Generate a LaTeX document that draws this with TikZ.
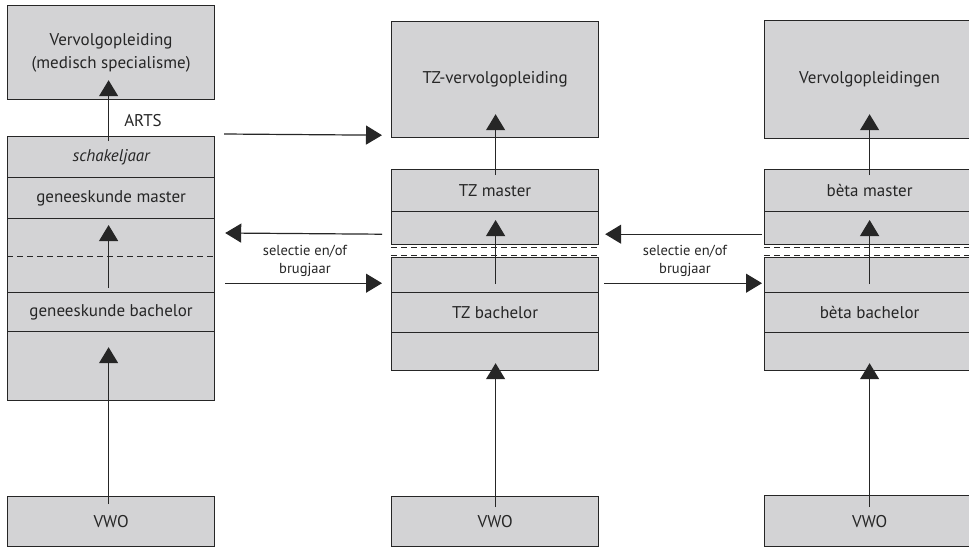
\documentclass[tikz,border=0pt]{standalone}
\usepackage{fontspec}
\setmainfont{PT Sans}
\usetikzlibrary{arrows.meta,calc}
\definecolor{boxfill}{HTML}{D3D3D5}
\definecolor{ln}{HTML}{262626}
\begin{document}
\begin{tikzpicture}[x=1pt,y=-1pt,
  box/.style={draw=ln,fill=boxfill,line width=1.2pt,inner sep=0pt,anchor=north west,align=center,text=ln,font=\fontsize{17}{22.5}\selectfont},
  arr/.style={draw=ln,line width=1.2pt,-{Triangle[width=19pt,length=16pt]}},
  dsh/.style={draw=ln,line width=1pt,dash pattern=on 6pt off 4pt},
  lbl/.style={text=ln,align=center,font=\fontsize{14.5}{17.5}\selectfont},
  ]
\useasboundingbox (0,0) rectangle (969,547);
% left column
\node[box,minimum width=207pt,minimum height=94pt] (lt) at (7,5) {Vervolgopleiding\\(medisch specialisme)};
\node[box,minimum width=207pt,minimum height=41pt] (ls1) at (7,136) {\itshape schakeljaar};
\node[box,minimum width=207pt,minimum height=41pt] (ls2) at (7,177) {geneeskunde master};
\node[box,minimum width=207pt,minimum height=74pt] (ls3) at (7,218) {};
\node[box,minimum width=207pt,minimum height=39pt] (ls4) at (7,292) {geneeskunde bachelor};
\node[box,minimum width=207pt,minimum height=69pt] (ls5) at (7,331) {};
\node[box,minimum width=207pt,minimum height=50pt] (lv) at (7,496) {VWO};
\draw[dsh] ($(ls3.west)+(0,1)$) -- ($(ls3.east)+(0,1)$);
% middle column
\node[box,minimum width=207pt,minimum height=116pt] (mt) at (391,21) {TZ-vervolgopleiding};
\node[box,minimum width=207pt,minimum height=42pt] (mm1) at (391,169) {TZ master};
\node[box,minimum width=207pt,minimum height=33pt] (mm2) at (391,211) {};
\node[box,minimum width=207pt,minimum height=35pt] (mb1) at (391,257) {};
\node[box,minimum width=207pt,minimum height=40pt] (mb2) at (391,292) {TZ bachelor};
\node[box,minimum width=207pt,minimum height=38pt] (mb3) at (391,332) {};
\node[box,minimum width=207pt,minimum height=50pt] (mv) at (391,496) {VWO};
\draw[dsh] ($(mm2.south west)+(0,2.7)$) -- ($(mm2.south east)+(0,2.7)$);
\draw[dsh] ($(mb1.north west)+(0,-2)$) -- ($(mb1.north east)+(0,-2)$);
% right column
\node[box,minimum width=210pt,minimum height=118pt] (rt) at (764,20) {Vervolgopleidingen};
\node[box,minimum width=210pt,minimum height=42pt] (rm1) at (764,169) {bèta master};
\node[box,minimum width=210pt,minimum height=33pt] (rm2) at (764,211) {};
\node[box,minimum width=210pt,minimum height=35pt] (rb1) at (764,257) {};
\node[box,minimum width=210pt,minimum height=40pt] (rb2) at (764,292) {bèta bachelor};
\node[box,minimum width=210pt,minimum height=38pt] (rb3) at (764,332) {};
\node[box,minimum width=210pt,minimum height=51pt] (rv) at (764,495) {VWO};
\draw[dsh] ($(rm2.south west)+(0,2.7)$) -- ($(rm2.south east)+(0,2.7)$);
\draw[dsh] ($(rb1.north west)+(0,-2)$) -- ($(rb1.north east)+(0,-2)$);
% vertical arrows
\draw[arr] ($(ls1.north)+(-2.5,5)$) -- ($(lt.south)+(-2.5,-20)$);
\node[lbl,font=\fontsize{17}{20}\selectfont] (arts) at (143,121) {ARTS};
\draw[arr] ($(ls4.north)+(-2.5,-4)$) -- ($(ls3.north)+(-2.5,7)$);
\draw[arr] ($(lv.north)+(-2.5,8)$) -- ($(ls5.south)+(-2.5,-54)$);
\draw[arr] ($(mm1.north)+(0.5,6)$) -- ($(mt.south)+(0.5,-24)$);
\draw[arr] ($(mb1.south)+(0.5,-9)$) -- ($(mm2.north)+(0.5,9)$);
\draw[arr] ($(mv.north)+(0.5,11)$) -- ($(mb3.south)+(0.5,-8)$);
\draw[arr] ($(rm1.north)+(0,6)$) -- ($(rt.south)+(0,-25)$);
\draw[arr] ($(rb1.south)+(0,-9)$) -- ($(rm2.north)+(0,9)$);
\draw[arr] ($(rv.north)+(0,12)$) -- ($(rb3.south)+(0,-8)$);
% horizontal arrows
\draw[arr] ($(ls1.north east)+(9,-2)$) -- ($(mt.south west)+(-9,-3)$);
\draw[arr] ($(mm2.south west)+(-9,-11)$) -- ($(ls3.north east)+(10,15)$);
\draw[arr] ($(ls3.south east)+(10,-10)$) -- ($(mb1.south west)+(-9,-10)$);
\node[lbl] (sel1) at (305,261) {selectie en/of\\brugjaar};
\draw[arr] ($(rm2.south west)+(-2,-11)$) -- ($(mm2.south east)+(6,-11)$);
\draw[arr] ($(mb1.south east)+(5,-10)$) -- ($(rb1.south west)+(-2,-10)$);
\node[lbl] (sel2) at (685,261) {selectie en/of\\brugjaar};
\end{tikzpicture}
\end{document}
